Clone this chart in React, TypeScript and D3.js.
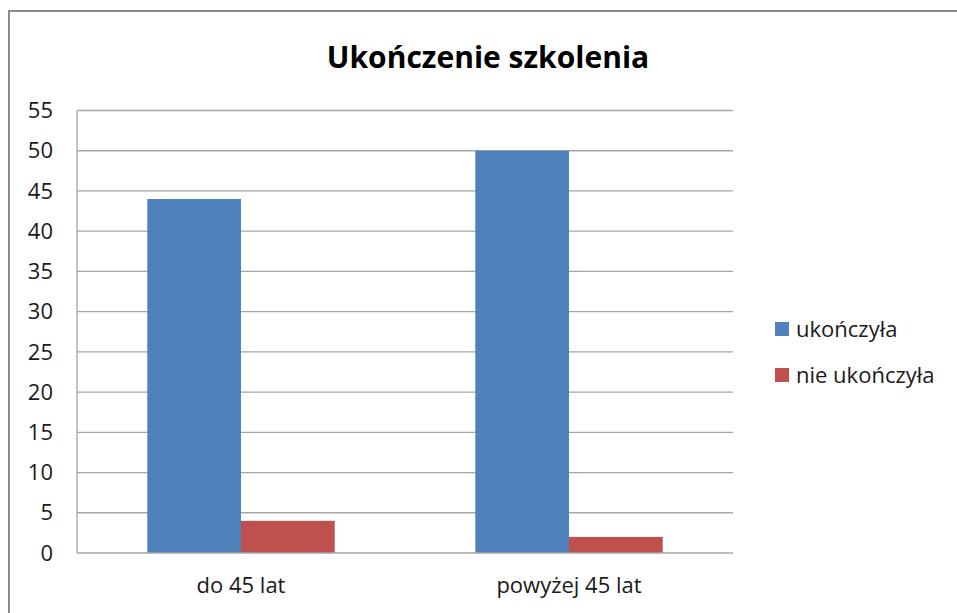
import React, { useEffect, useRef } from "react";
import * as d3 from "d3";

const categories = ["do 45 lat", "powyżej 45 lat"];
const seriesNames = ["ukończyła", "nie ukończyła"];
const seriesColors = ["#4F81BD", "#C0504D"];
const completed = [44, 50];
const notCompleted = [4, 2];
const yTicks = [0, 5, 10, 15, 20, 25, 30, 35, 40, 45, 50, 55];

const W = 957;
const H = 613;
const FONT = "'Open Sans', Lato, sans-serif";
const LABEL_SIZE = 22;

const App = () => {
  const svgRef = useRef<SVGSVGElement>(null);

  useEffect(() => {
    document.body.style.margin = "0";
    const svg = d3.select(svgRef.current);
    svg.selectAll("*").remove();

    const plot = { left: 77, right: 733, top: 110.5, bottom: 553 };
    const values = [completed, notCompleted];

    // outer chart frame (only top/left edges visible in the picture)
    svg.append("rect")
      .attr("x", 9).attr("y", 11)
      .attr("width", W + 20).attr("height", H + 20)
      .attr("fill", "white")
      .attr("stroke", "#8c8c8c").attr("stroke-width", 2);

    const y = d3.scaleLinear().domain([0, 55]).range([plot.bottom, plot.top]);
    const x0 = d3.scaleBand<string>()
      .domain(categories)
      .range([plot.left, plot.right])
      .paddingInner(1.5 / 3.5)
      .paddingOuter(0.75 / 3.5);
    const x1 = d3.scaleBand<string>()
      .domain(seriesNames)
      .range([0, x0.bandwidth()]);

    // gridlines
    svg.append("g")
      .selectAll("line")
      .data(yTicks.filter(t => t > 0))
      .join("line")
      .attr("x1", plot.left).attr("x2", plot.right)
      .attr("y1", d => y(d)).attr("y2", d => y(d))
      .attr("stroke", "#a6a6a6").attr("stroke-width", 1.3);

    // y axis labels
    svg.append("g")
      .selectAll("text")
      .data(yTicks)
      .join("text")
      .attr("x", 53)
      .attr("y", d => y(d))
      .attr("dy", "0.35em")
      .attr("text-anchor", "end")
      .attr("font-family", FONT)
      .attr("font-size", LABEL_SIZE)
      .attr("fill", "#1a1a1a")
      .text(d => d);

    // bars
    const groups = svg.append("g")
      .selectAll("g")
      .data(categories)
      .join("g")
      .attr("transform", d => `translate(${x0(d)},0)`);

    groups.selectAll("rect")
      .data((c, i) => seriesNames.map((s, si) => ({ s, si, v: values[si][i] })))
      .join("rect")
      .attr("x", d => x1(d.s)!)
      .attr("width", x1.bandwidth())
      .attr("y", d => y(d.v))
      .attr("height", d => y(0) - y(d.v))
      .attr("fill", d => seriesColors[d.si]);

    // axes lines
    svg.append("line")
      .attr("x1", plot.left).attr("x2", plot.left)
      .attr("y1", plot.top).attr("y2", plot.bottom)
      .attr("stroke", "#a6a6a6").attr("stroke-width", 1.3);
    svg.append("line")
      .attr("x1", plot.left).attr("x2", plot.right)
      .attr("y1", plot.bottom).attr("y2", plot.bottom)
      .attr("stroke", "#a6a6a6").attr("stroke-width", 1.3);

    // category labels
    svg.append("g")
      .selectAll("text")
      .data(categories)
      .join("text")
      .attr("x", d => x0(d)! + x0.bandwidth() / 2)
      .attr("y", 585)
      .attr("dy", "0.35em")
      .attr("text-anchor", "middle")
      .attr("font-family", FONT)
      .attr("font-size", LABEL_SIZE)
      .attr("fill", "#1a1a1a")
      .text(d => d);

    // title
    svg.append("text")
      .attr("x", 488).attr("y", 57)
      .attr("dy", "0.35em")
      .attr("text-anchor", "middle")
      .attr("font-family", FONT)
      .attr("font-weight", "bold")
      .attr("font-size", 30)
      .attr("fill", "#000")
      .text("Ukończenie szkolenia");

    // legend
    const legend = svg.append("g")
      .selectAll("g")
      .data(seriesNames)
      .join("g")
      .attr("transform", (d, i) => `translate(775,${329 + i * 46})`);
    legend.append("rect")
      .attr("x", 0).attr("y", -7)
      .attr("width", 14).attr("height", 14)
      .attr("fill", (d, i) => seriesColors[i]);
    legend.append("text")
      .attr("x", 21).attr("y", 0)
      .attr("dy", "0.35em")
      .attr("font-family", FONT)
      .attr("font-size", LABEL_SIZE)
      .attr("fill", "#1a1a1a")
      .text(d => d);
  }, []);

  return <svg ref={svgRef} width={W} height={H} style={{ display: "block" }} />;
};

export default App;
